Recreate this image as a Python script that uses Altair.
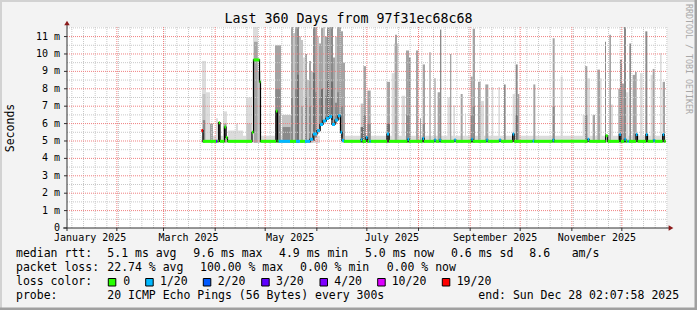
import altair as alt
import pandas as pd

# ---------------- data (days since start of the 360-day window) ----------------
START = pd.Timestamp("2025-01-02 02:07:58")

MED_START = [80.7, 81.6, 89.4, 90.3, 91.0, 91.8, 94.5, 95.4, 96.3, 111.0, 111.9, 115.5, 116.1, 125.4, 126.3,
             127.0, 133.8, 137.4, 139.8, 142.8, 145.8, 147.6, 150.0, 151.8, 153.6, 155.4, 157.2, 159.0, 160.8,
             162.6, 164.1, 165.0, 166.2, 176.3, 177.2, 179.4, 180.3, 181.4, 182.3, 192.0, 193.2, 204.3, 205.2,
             213.3, 214.2, 220.4, 221.3, 223.4, 224.3, 232.4, 233.3, 242.6, 243.5, 251.6, 252.5, 259.4, 260.3,
             267.4, 268.3, 279.4, 280.3, 291.4, 292.3, 312.4, 313.3, 323.2, 324.4, 331.4, 332.3, 334.4, 335.3,
             336.2, 337.1, 341.4, 342.3, 347.4, 348.3, 351.8, 352.7, 357.4, 358.3]
MED_END = MED_START[1:] + [359.2]
MED_MS = [5.6, 4.98, 4.98, 4.98, 6.05, 4.98, 5.8, 5.2, 4.98, 5.5, 9.66, 8.4, 4.98, 6.72, 4.98,
          4.98, 4.98, 4.98, 4.98, 4.98, 5.1, 5.4, 5.6, 5.95, 6.15, 6.3, 6.4, 5.95, 6.2,
          6.45, 5.5, 5.03, 4.98, 5.07, 4.98, 5.2, 4.98, 4.98, 4.98, 5.4, 4.98, 5.1, 4.98,
          5.15, 4.98, 5.05, 4.98, 5.05, 4.98, 5.05, 4.98, 5.1, 4.98, 5.05, 4.98, 5.05, 4.98,
          5.4, 4.98, 5.0, 4.98, 5.05, 4.98, 5.1, 4.98, 5.3, 4.98, 5.37, 4.98, 5.1, 4.98,
          4.98, 4.98, 5.37, 4.98, 5.37, 4.98, 5.03, 4.98, 5.37, 4.98]
MED_LOSS = ["19/20", "0", "3/20", "0", "0", "0", "0", "0", "0", "0", "0", "0", "0", "0", "0",
            "1/20", "0", "1/20", "0", "1/20", "1/20", "1/20", "1/20", "1/20", "1/20", "1/20", "1/20", "1/20", "1/20",
            "1/20", "1/20", "1/20", "0", "1/20", "0", "1/20", "0", "1/20", "0", "1/20", "0", "1/20", "0",
            "1/20", "0", "1/20", "0", "1/20", "0", "1/20", "0", "1/20", "0", "1/20", "0", "1/20", "0",
            "1/20", "0", "1/20", "0", "1/20", "0", "1/20", "0", "0", "0", "1/20", "0", "1/20", "0",
            "1/20", "0", "1/20", "0", "1/20", "0", "1/20", "0", "1/20", "0"]

LOSS_LABELS = ["0", "1/20", "2/20", "3/20", "4/20", "10/20", "19/20"]
LOSS_COLORS = ["#26ff00", "#00b8ff", "#0059ff", "#5e00ff", "#7e00ff", "#dd00ff", "#ff0000"]

# smoke band just above the median
BAND_START = [80.7, 164.4]
BAND_END = [151.8, 359.2]
BAND_LO = [4.88, 4.88]
BAND_HI = [5.3, 5.3]

# smoke spikes (outer envelope)
SMOKE_START = [81.0, 83.4, 85.8, 89.4, 93.6, 96.6, 101.4, 107.4, 111.6, 114.6, 124.8, 129.0,
               134.4, 135.6, 136.8, 138.0, 139.2, 140.4, 141.6, 142.8, 144.0, 145.2, 146.4, 147.6, 148.8,
               150.0, 151.2, 152.4, 153.6, 154.8, 156.0, 157.2, 158.4, 159.6, 160.8, 162.0, 163.2, 164.4, 165.6,
               176.2, 177.8, 180.2, 191.8, 194.8, 196.4, 196.8, 200.8, 203.4, 205.2, 209.4, 211.8, 213.4,
               217.4, 220.4, 222.4, 223.8, 228.2, 229.8, 231.8, 236.2, 238.8, 242.2, 243.4, 246.6, 248.2,
               251.0, 254.8, 258.8, 262.2, 267.4, 269.2, 270.4, 279.8, 291.4, 296.2, 309.4, 310.8, 312.2,
               315.4, 318.2, 319.8, 322.8, 325.4, 326.4, 330.8, 331.8, 332.8, 334.2, 334.8, 337.4, 339.4,
               340.8, 343.8, 347.0, 350.2, 351.4, 355.8, 357.4]
SMOKE_END = [83.4, 85.8, 87.6, 90.6, 96.0, 105.6, 102.6, 111.0, 114.6, 116.1, 128.4, 134.4,
             135.6, 136.8, 138.0, 139.2, 140.4, 141.6, 142.8, 144.0, 145.2, 146.4, 147.6, 148.8, 150.0,
             151.2, 152.4, 153.6, 154.8, 156.0, 157.2, 158.4, 159.6, 160.8, 162.0, 163.2, 164.4, 165.6, 166.8,
             178.2, 179.4, 182.2, 193.8, 196.8, 198.8, 198.0, 202.8, 205.2, 206.2, 210.8, 212.4, 214.8,
             218.2, 221.2, 223.8, 224.6, 229.8, 230.6, 232.8, 237.4, 239.4, 243.4, 244.8, 248.2, 250.2,
             252.8, 255.8, 259.8, 263.2, 268.8, 270.4, 271.4, 281.0, 292.6, 297.4, 310.8, 312.2, 313.8,
             316.8, 319.8, 320.8, 323.4, 326.4, 327.6, 332.2, 333.0, 334.2, 335.4, 336.8, 338.4, 340.8,
             341.8, 345.4, 348.2, 351.4, 352.6, 356.8, 358.8]
SMOKE_LO = ([4.9] * 12
            + [4.9] * 11 + [5.0, 5.2, 5.4, 5.6, 5.9, 6.0, 6.1, 6.2, 6.3, 6.2, 5.9, 6.0, 6.2, 6.2, 5.2, 4.9]
            + [4.9] * 59)
SMOKE_HI = [9.6, 7.8, 6.0, 6.3, 6.7, 5.6, 6.0, 7.5, 11.6, 9.0, 10.5, 6.5,
            11.6, 11.2, 11.6, 11.6, 11.0, 10.8, 9.8, 10.0, 8.5, 9.6, 9.0, 11.6, 11.6,
            11.0, 10.6, 11.5, 11.6, 11.0, 11.6, 11.6, 11.6, 9.8, 11.0, 11.6, 11.6, 11.3, 9.5,
            7.15, 9.3, 7.9, 8.4, 8.9, 10.6, 11.1, 7.6, 10.2, 9.8, 10.2, 6.3, 9.4,
            10.1, 8.6, 7.8, 11.4, 7.5, 10.0, 7.05, 7.7, 6.6, 8.7, 11.45, 8.4, 7.3,
            8.25, 8.1, 8.1, 8.25, 7.7, 9.4, 7.7, 8.25, 10.9, 8.7, 6.5, 9.3, 8.6,
            6.5, 9.1, 8.6, 10.7, 11.1, 7.1, 8.0, 9.65, 8.3, 11.6, 7.8, 10.6, 8.8,
            8.97, 8.9, 11.3, 8.8, 9.14, 10.05, 8.4]
SMOKE_LEVEL = [1, 1, 3, 1, 1, 1, 1, 1, 1, 2, 3, 2,
               3, 2, 3, 4, 2, 2, 1, 3, 2, 3, 2, 4, 3,
               2, 3, 3, 2, 3, 4, 3, 4, 3, 2, 3, 3, 3, 3,
               2, 3, 3, 3, 1, 2, 3, 1, 3, 4, 3, 3, 3,
               3, 3, 3, 4, 1, 3, 1, 3, 1, 3, 3, 3, 1,
               3, 1, 1, 4, 1, 4, 3, 3, 3, 1, 1, 3, 1,
               3, 3, 1, 4, 3, 1, 3, 4, 3, 4, 1, 4, 3,
               3, 1, 4, 1, 3, 1, 3]

# denser core of the smoke, close to the median
CORE_START = [81.3, 81.5, 93.9, 107.7, 112.2, 125.1, 129.3,
              134.4, 136.8, 138.0, 140.4, 142.8, 145.2, 147.6, 148.8, 151.2, 152.4, 154.8, 156.0, 157.2,
              158.4, 160.8, 162.0, 164.4,
              176.2, 177.8, 180.2, 191.8, 203.4, 213.4, 242.2, 243.4, 269.2, 291.4, 310.8]
CORE_END = [83.1, 82.9, 95.7, 110.7, 114.4, 128.1, 134.1,
            135.6, 138.0, 139.2, 141.6, 144.0, 146.4, 148.8, 150.0, 152.4, 153.6, 156.0, 157.2, 158.4,
            159.6, 162.0, 163.2, 165.6,
            178.2, 179.4, 182.2, 193.8, 205.2, 214.8, 243.4, 244.8, 270.4, 292.6, 312.2]
CORE_LO = [4.9, 4.9, 4.9, 4.9, 4.9, 4.9, 4.9,
           4.9, 4.9, 4.9, 4.9, 4.9, 4.9, 5.0, 5.2, 5.6, 5.9, 6.1, 6.2, 6.3,
           6.2, 6.0, 6.2, 5.2,
           4.9, 4.9, 4.9, 4.9, 4.9, 4.9, 4.9, 4.9, 4.9, 4.9, 4.9]
CORE_HI = [7.7, 6.2, 6.0, 6.0, 10.7, 8.0, 5.8,
           7.5, 8.0, 8.8, 7.0, 7.5, 7.0, 8.9, 7.8, 7.5, 8.0, 7.6, 8.5, 7.5,
           8.4, 7.2, 7.8, 7.0,
           5.8, 6.5, 6.0, 6.0, 6.5, 6.0, 6.5, 7.0, 6.5, 7.0, 6.5]
CORE_LEVEL = [2, 4, 3, 2, 3, 4, 4,
              4, 4, 5, 3, 4, 4, 5, 4, 4, 5, 4, 5, 4,
              5, 4, 4, 4,
              5, 4, 4, 5, 4, 4, 4, 4, 5, 4, 4]

MONTH_LABELS = ["January 2025", "March 2025", "May 2025", "July 2025", "September 2025", "November 2025"]
MONTH_LABEL_AT = ["2025-01-16T00:00:00", "2025-03-16T00:00:00", "2025-05-16T00:00:00",
                  "2025-07-16T00:00:00", "2025-09-16T00:00:00", "2025-11-16T00:00:00"]
Y_LABEL_VALUES = list(range(12))
Y_LABELS = ["0\u00a0\u00a0"] + [f"{v} m" for v in range(1, 12)]

LEGEND_ROWS = [
    ["median rtt:", "5.1 ms avg", "9.6 ms max", "4.9 ms min", "5.0 ms now", "0.6 ms sd", "8.6", "am/s"],
    ["packet loss:", "22.74 % avg", "100.00 % max", "0.00 % min", "0.00 % now"],
    ["loss color:"],
    ["probe:", "20 ICMP Echo Pings (56 Bytes) every 300s", "end: Sun Dec 28 02:07:58 2025"],
]

# ---------------- layout ----------------
W, H = 600, 201
PL, PT = 67, 27
YMAX = 11.55
MONO = "DejaVu Sans Mono"
GRAYS = ["#dcdcdc", "#c4c4c4", "#a4a4a4", "#8a8a8a", "#6e6e6e", "#555555"]


def t(days):
    return [(START + pd.Timedelta(seconds=round(float(d) * 86400))).strftime("%Y-%m-%dT%H:%M:%S") for d in days]


xs = alt.Scale(domain=[alt.DateTime(year=2025, month=1, date=2, hours=2, minutes=7, seconds=58),
                       alt.DateTime(year=2025, month=12, date=28, hours=2, minutes=7, seconds=58)], nice=False)
ys = alt.Scale(domain=[0, YMAX], nice=False, zero=False)
lvl_scale = alt.Scale(domain=[1, 2, 3, 4, 5, 6], range=GRAYS)

band_df = pd.DataFrame({"t0": t(BAND_START), "t1": t(BAND_END), "lo": BAND_LO, "hi": BAND_HI, "lvl": 1})
smoke_df = pd.DataFrame({"t0": t(SMOKE_START), "t1": t(SMOKE_END), "lo": SMOKE_LO, "hi": SMOKE_HI,
                         "lvl": SMOKE_LEVEL}).sort_values("lvl", kind="stable")
core_df = pd.DataFrame({"t0": t(CORE_START), "t1": t(CORE_END), "lo": CORE_LO, "hi": CORE_HI,
                        "lvl": CORE_LEVEL}).sort_values("lvl", kind="stable")


def rects(df):
    return alt.Chart(df).mark_rect(clip=True, strokeWidth=0).encode(
        x=alt.X("t0:T", scale=xs, axis=None), x2="t1:T",
        y=alt.Y("lo:Q", scale=ys, axis=None), y2="hi:Q",
        fill=alt.Fill("lvl:O", scale=lvl_scale, legend=None))


weeks = pd.date_range("2025-01-05", "2025-12-28", freq="7D").strftime("%Y-%m-%dT00:00:00")
months = pd.date_range("2025-02-01", "2025-12-01", freq="MS").strftime("%Y-%m-%dT00:00:00")
minor_v = alt.Chart(pd.DataFrame({"t": weeks})).mark_rule(color="#c8c8c8", strokeDash=[1, 1]).encode(
    x=alt.X("t:T", scale=xs, axis=None), y=alt.value(0), y2=alt.value(H))
major_v = alt.Chart(pd.DataFrame({"t": months})).mark_rule(color="#f08080", strokeDash=[1, 1]).encode(
    x=alt.X("t:T", scale=xs, axis=None), y=alt.value(0), y2=alt.value(H))
minor_h = alt.Chart(pd.DataFrame({"v": [i + 0.5 for i in range(12)]})).mark_rule(
    color="#c8c8c8", strokeDash=[1, 1]).encode(
    y=alt.Y("v:Q", scale=ys, axis=None), x=alt.value(0), x2=alt.value(W))
major_h = alt.Chart(pd.DataFrame({"v": list(range(1, 12))})).mark_rule(
    color="#f08080", strokeDash=[1, 1]).encode(
    y=alt.Y("v:Q", scale=ys, axis=None), x=alt.value(0), x2=alt.value(W))

med_df = pd.DataFrame({"t0": t(MED_START), "t1": t(MED_END), "ms": MED_MS, "loss": MED_LOSS})
line_df = pd.DataFrame({"t": t(MED_START + [MED_END[-1]]), "ms": MED_MS + [MED_MS[-1]]})
med_line = alt.Chart(line_df).mark_line(interpolate="step-after", color="#000000", strokeWidth=1.2).encode(
    x=alt.X("t:T", scale=xs, axis=None), y=alt.Y("ms:Q", scale=ys, axis=None))
med_color = alt.Chart(med_df).mark_rule(strokeWidth=3, strokeCap="butt").encode(
    x=alt.X("t0:T", scale=xs, axis=None), x2="t1:T", y=alt.Y("ms:Q", scale=ys, axis=None),
    stroke=alt.Stroke("loss:N", scale=alt.Scale(domain=LOSS_LABELS, range=LOSS_COLORS), legend=None))

ONE = pd.DataFrame({"k": [0]})
AXIS = "#303030"

x_axis = alt.Chart(ONE).mark_rule(color=AXIS).encode(x=alt.value(-4), x2=alt.value(603), y=alt.value(H))
y_axis = alt.Chart(ONE).mark_rule(color=AXIS).encode(x=alt.value(0), y=alt.value(H + 3), y2=alt.value(-3))
arrow_up = alt.Chart(ONE).mark_point(shape="triangle-up", filled=True, color="#8b1a1a", size=30, opacity=1).encode(
    x=alt.value(0), y=alt.value(-4))
arrow_right = alt.Chart(ONE).mark_point(shape="triangle-right", filled=True, color="#8b1a1a", size=30,
                                        opacity=1).encode(x=alt.value(604), y=alt.value(H))

ylab = alt.Chart(pd.DataFrame({"v": Y_LABEL_VALUES, "s": Y_LABELS})).mark_text(
    font=MONO, fontSize=10, align="right", baseline="middle", color="black").encode(
    y=alt.Y("v:Q", scale=ys, axis=None), x=alt.value(-7), text="s:N")
ytick = alt.Chart(pd.DataFrame({"v": Y_LABEL_VALUES})).mark_rule(color=AXIS).encode(
    y=alt.Y("v:Q", scale=ys, axis=None), x=alt.value(-3), x2=alt.value(0))
xtick = alt.Chart(pd.DataFrame({"t": months})).mark_rule(color=AXIS).encode(
    x=alt.X("t:T", scale=xs, axis=None), y=alt.value(H), y2=alt.value(H + 3))
xlab = alt.Chart(pd.DataFrame({"t": MONTH_LABEL_AT, "s": MONTH_LABELS})).mark_text(
    font=MONO, fontSize=10, align="center", baseline="middle", color="black").encode(
    x=alt.X("t:T", scale=xs, axis=None), y=alt.value(210.5), text="s:N")


def txt(s, x, y, size=11.5, align="left", color="black", angle=0):
    return alt.Chart(ONE).mark_text(text=s, font=MONO, fontSize=size, align=align, baseline="middle",
                                    color=color, angle=angle).encode(x=alt.value(x - PL), y=alt.value(y - PT))


def box(x0, x1, y0, y1, fill, stroke=None):
    kw = {"fill": fill}
    if stroke:
        kw.update(stroke=stroke, strokeWidth=1)
    return alt.Chart(ONE).mark_rect(**kw).encode(
        x=alt.value(x0 - PL), x2=alt.value(x1 - PL), y=alt.value(y0 - PT), y2=alt.value(y1 - PT))


deco = [
    txt("Last 360 Days from 97f31ec68c68", 348.5, 19, size=13.3, align="center"),
    txt("Seconds", 11, 128, size=11.5, align="center", angle=270),
    txt("RRDTOOL / TOBI OETIKER", 688, 59, size=8.3, align="center", color="#a8a8a8", angle=90),
]
row_y = [254.3, 268.3, 282.3, 296.3]
row_x = [
    [16, 107.3, 193.3, 279, 365, 451, 529.3, 571.7],
    [16, 107.3, 200, 300, 386.7],
    [16],
    [16, 107.3, 478.3],
]
for r, items in enumerate(LEGEND_ROWS):
    for s, x in zip(items, row_x[r]):
        deco.append(txt(s, x, row_y[r]))
sq_x = [108.3, 145.7, 203.3, 261.7, 320, 377.7, 442.3]
lab_x = [123.3, 160, 217.7, 276, 334.3, 391.7, 456.7]
for lab, col, sx, lx in zip(LOSS_LABELS, LOSS_COLORS, sq_x, lab_x):
    deco.append(box(sx, sx + 7.5, 278.5, 286, col, "#000000"))
    deco.append(txt(lab, lx, row_y[2]))

borders = [
    box(0, 697, 0, 2, "#d2d2d2"),
    box(0, 2, 0, 310, "#d2d2d2"),
    box(694.5, 697, 0, 310, "#a0a0a0"),
    box(0, 697, 307.5, 310, "#a0a0a0"),
]

chart = alt.layer(
    rects(band_df), rects(smoke_df), rects(core_df),
    minor_v, minor_h, major_v, major_h,
    med_line, med_color,
    x_axis, y_axis, ytick, xtick, arrow_up, arrow_right, ylab, xlab,
    *deco, *borders,
).properties(
    width=W, height=H, autosize="none", background="#f3f3f3",
    padding={"left": PL, "top": PT, "right": 697 - PL - W, "bottom": 310 - PT - H},
).configure_view(stroke=None, fill="white")

chart.save("out.html", embed_options={"renderer": "svg", "actions": False})
